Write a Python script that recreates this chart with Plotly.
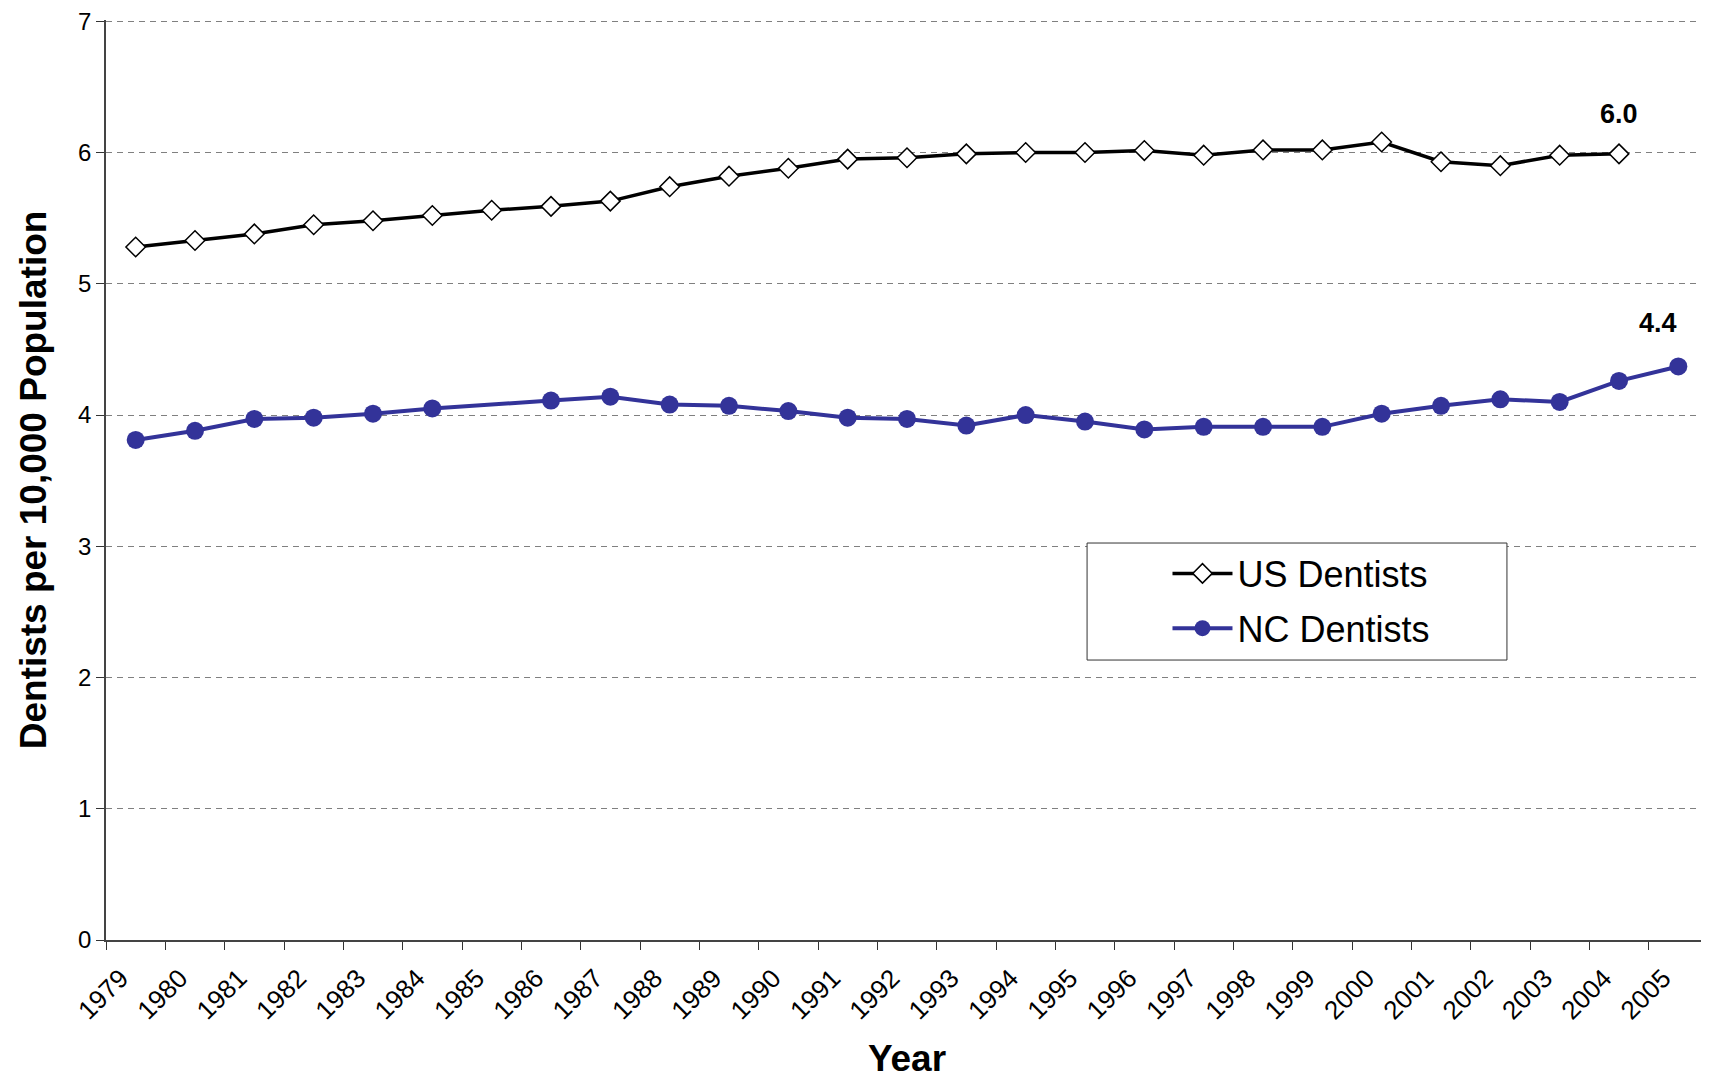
import plotly.graph_objects as go

years = [str(y) for y in range(1979, 2006)]
us_dentists = [5.28, 5.33, 5.38, 5.45, 5.48, 5.52, 5.56, 5.59, 5.63, 5.74,
               5.82, 5.88, 5.95, 5.96, 5.99, 6.00, 6.00, 6.015, 5.98, 6.02,
               6.02, 6.08, 5.93, 5.90, 5.98, 5.99, None]
nc_dentists = [3.81, 3.88, 3.97, 3.98, 4.01, 4.05, None, 4.11, 4.14, 4.08,
               4.07, 4.03, 3.98, 3.97, 3.92, 4.00, 3.95, 3.89, 3.91, 3.91,
               3.91, 4.01, 4.07, 4.12, 4.10, 4.26, 4.37]
end_labels = [("2004", 5.99, "6.0", 0, 40), ("2005", 4.37, "4.4", -20, 43)]
y_ticks = [0, 1, 2, 3, 4, 5, 6, 7]

FONT = "Liberation Sans, Arial, sans-serif"

fig = go.Figure()
fig.add_trace(go.Scatter(
    x=years, y=us_dentists, name="US Dentists", mode="lines+markers",
    line=dict(color="black", width=3.5),
    marker=dict(symbol="diamond", size=15, color="white",
                line=dict(color="black", width=1.5)),
    legendgroup="us", connectgaps=True,
))
fig.add_trace(go.Scatter(
    x=years, y=nc_dentists, name="NC Dentists", mode="lines+markers",
    line=dict(color="#333399", width=4),
    marker=dict(symbol="circle", size=18, color="#333399"),
    legendgroup="nc", connectgaps=True,
))

for x, y, t, dx, dy in end_labels:
    fig.add_annotation(x=years.index(x), y=y, text="<b>%s</b>" % t, showarrow=False,
                       xshift=dx, yshift=dy,
                       font=dict(family=FONT, size=27, color="black"))

# legend frame
fig.add_shape(type="rect", xref="paper", yref="paper",
              x0=0.6124, x1=0.8745, y0=0.3043, y1=0.4315,
              line=dict(color="#333333", width=1), fillcolor="white", layer="above")

fig.update_layout(
    width=1701, height=1071,
    margin=dict(l=98, r=1, t=12, b=139),
    paper_bgcolor="white", plot_bgcolor="white",
    font=dict(family=FONT, color="black"),
    showlegend=True,
    legend=dict(x=0.6626, y=0.431, xanchor="left", yanchor="top",
                bgcolor="rgba(0,0,0,0)", borderwidth=0,
                font=dict(family=FONT, size=36, color="black"),
                tracegroupgap=5, itemwidth=60),
    xaxis=dict(
        type="category", categoryorder="array", categoryarray=years,
        range=[-0.5, 26.5], automargin=False,
        tickson="boundaries", ticks="outside", ticklen=8, tickcolor="#333333",
        showline=True, linecolor="#444444", linewidth=1.5,
        tickangle=-45, tickfont=dict(family=FONT, size=26, color="black"),
        ticklabelstandoff=11, ticklabelshift=-15,
        showgrid=False,
        title=dict(text="<b>Year</b>", font=dict(family=FONT, size=37, color="black"),
                   standoff=26),
    ),
    yaxis=dict(
        range=[0, 7.01], tickvals=y_ticks, ticks="outside", ticklen=8,
        tickcolor="#333333", automargin=False, ticklabeloverflow="allow",
        showline=True, linecolor="#444444", linewidth=1.5,
        showgrid=True, gridcolor="#808080", gridwidth=1, griddash="6px,5px",
        zeroline=False,
        tickfont=dict(family=FONT, size=24, color="black"),
        title=dict(text="<b>Dentists per 10,000 Population</b>",
                   font=dict(family=FONT, size=37, color="black"), standoff=20),
    ),
)

fig.write_html("out.html")
